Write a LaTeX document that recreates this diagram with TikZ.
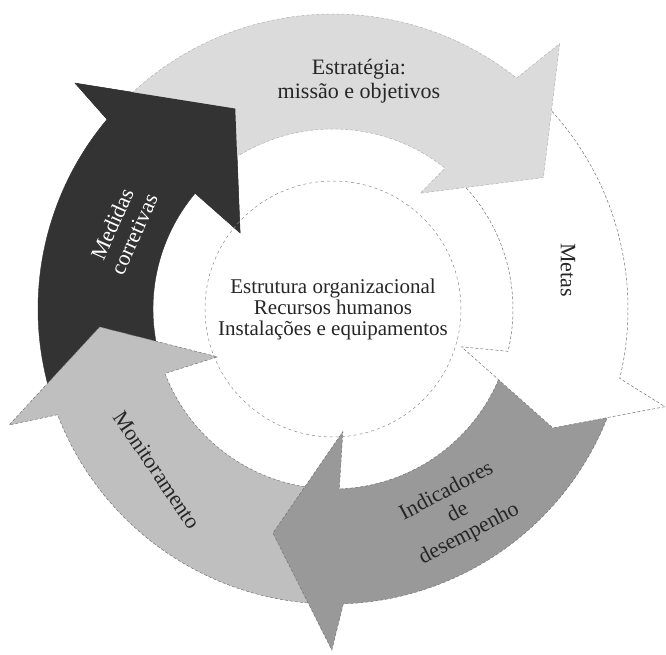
\documentclass[tikz,border=0pt]{standalone}
\usepackage{fontspec}
\setmainfont{Liberation Serif}
\definecolor{stratgray}{gray}{0.86}
\definecolor{indicgray}{gray}{0.6}
\definecolor{monitgray}{gray}{0.75}
\definecolor{medidgray}{gray}{0.2}
\tikzset{
  rim/.style={draw=black!55, densely dashed, line width=0.5pt},
  lbl/.style={font=\fontsize{22}{24}\selectfont, align=center, text=black!85},
  core/.style={circle, minimum size=256, draw=black!45, dashed, line width=0.5pt,
    font=\fontsize{21}{21}\selectfont, align=center, text=black!85},
}
\begin{document}
\begin{tikzpicture}[x=1pt, y=1pt]
\useasboundingbox (-333,-345) rectangle (333,309);
% medidas corretivas
\filldraw[fill=medidgray, draw=medidgray]
(196:295) arc[start angle=196, end angle=140, radius=295]
-- (138.8:343) -- (116:223) -- (140.7:120)
-- (140:180) arc[start angle=140, end angle=196, radius=180] -- cycle;
% monitoramento
\filldraw[fill=monitgray, rim]
(268:295) arc[start angle=268, end angle=201, radius=295]
-- (199.7:344) -- (184.4:234) -- (202.5:125)
-- (201:180) arc[start angle=201, end angle=268, radius=180] -- cycle;
% indicadores
\filldraw[fill=indicgray, rim]
(-20:295) arc[start angle=-20, end angle=-88, radius=295]
-- (-90.2:341) -- (-105:232) -- (-85.4:123)
-- (-88:180) arc[start angle=-88, end angle=-20, radius=180] -- cycle;
% metas
\filldraw[fill=white, rim]
(44:295) arc[start angle=44, end angle=-13.6, radius=295]
-- (-16.4:346) -- (-28.4:250) -- (-16.4:134)
-- (-13.6:180) arc[start angle=-13.6, end angle=44, radius=180] -- cycle;
% estrategia
\filldraw[fill=stratgray, rim, draw=black!30]
(135:295) arc[start angle=135, end angle=51.5, radius=295]
-- (49.5:349) -- (32:248) -- (53:145)
-- (51.5:180) arc[start angle=51.5, end angle=135, radius=180] -- cycle;
% head of medidas again, over the tail of estrategia
\fill[medidgray] (140:295) -- (138.8:343) -- (116:223) -- (140.7:120) -- (140:180) -- cycle;

\node[core] (core) at (0,0) {Estrutura organizacional\\Recursos humanos\\Instalações e equipamentos};
\node[lbl] (strat) at (26,228) {Estratégia:\\missão e objetivos};
\node[lbl, rotate=-90] (metas) at (235,39) {Metas};
\node[lbl, rotate=28] (indic) at (125,-204) {Indicadores\\de\\desempenho};
\node[lbl, rotate=-56] (monit) at (-176,-161) {Monitoramento};
\node[lbl, rotate=66, text=white] (medid) at (-210,80) {Medidas\\corretivas};
\end{tikzpicture}
\end{document}
